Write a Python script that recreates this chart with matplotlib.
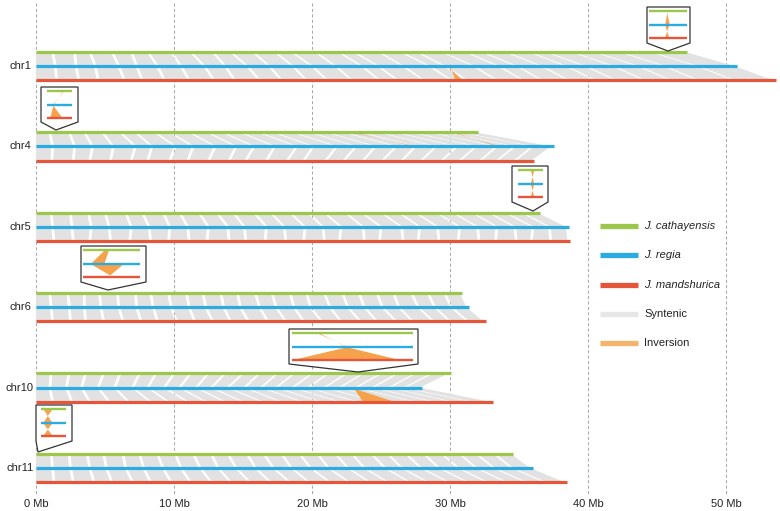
import matplotlib
matplotlib.use('Agg')
import matplotlib.pyplot as plt
from matplotlib.patches import Polygon

plt.rcParams['font.family'] = ['Liberation Sans', 'DejaVu Sans']

# ---------------- data ----------------
chroms = ['chr1', 'chr4', 'chr5', 'chr6', 'chr10', 'chr11']
len_cath = [47.2, 32.0, 36.5, 30.9, 30.1, 34.6]
len_regia = [50.8, 37.5, 38.6, 31.4, 28.0, 36.0]
len_mand = [53.6, 36.1, 38.7, 32.6, 33.1, 38.5]

# syntenic anchor positions (Mb) on each genome
anch_cath = {
    'chr1': [0, 1.3, 2.9, 4.0, 5.6, 7.0, 8.2, 9.9, 11.3, 12.9, 14.2, 15.8, 17.4, 18.6, 20.3, 22.0, 23.1, 24.9, 26.5, 27.7, 29.5, 31.2, 32.4, 34.1, 35.8, 37.0, 38.9, 40.5, 42.4, 44.6, 47.2],
    'chr4': [0, 1.1, 2.5, 3.6, 4.9, 6.2, 7.3, 8.7, 9.8, 11.2, 12.5, 13.6, 14.9, 16.2, 17.3, 18.7, 19.9, 21.1, 22.4, 23.6, 24.9, 26.1, 27.3, 28.6, 29.7, 30.8, 32.0],
    'chr5': [0, 1.2, 2.6, 3.9, 5.1, 6.6, 7.8, 9.3, 10.5, 11.9, 13.2, 14.4, 15.9, 17.1, 18.5, 19.8, 21.0, 22.5, 23.7, 25.1, 26.4, 27.6, 29.1, 30.3, 31.7, 32.9, 34.1, 35.3, 36.5],
    'chr6': [0, 1.1, 2.4, 3.6, 4.7, 6.0, 7.3, 8.4, 9.7, 11.0, 12.2, 13.5, 14.7, 16.0, 17.2, 18.5, 19.7, 21.0, 22.3, 23.5, 24.8, 26.0, 27.3, 28.5, 29.7, 30.9],
    'chr10': [0, 1.2, 2.5, 3.7, 5.0, 6.2, 7.6, 8.8, 10.1, 11.3, 12.6, 13.8, 15.1, 16.3, 17.6, 18.8, 20.1, 21.3, 22.6, 23.8, 25.1, 26.3, 27.6, 28.8, 30.1],
    'chr11': [0, 1.2, 2.5, 3.8, 5.0, 6.4, 7.6, 8.9, 10.2, 11.5, 12.8, 14.0, 15.4, 16.6, 17.9, 19.2, 20.5, 21.8, 23.0, 24.4, 25.6, 26.9, 28.2, 29.5, 30.8, 32.0, 33.3, 34.6],
}
anch_regia = {
    'chr1': [0, 1.5, 3.0, 4.4, 6.1, 7.4, 8.9, 10.6, 12.3, 13.8, 15.4, 17.0, 18.7, 20.1, 21.8, 23.7, 24.9, 26.7, 28.6, 29.7, 31.8, 33.6, 34.9, 36.7, 38.5, 39.9, 41.9, 43.7, 45.6, 48.0, 50.8],
    'chr4': [0, 1.3, 2.9, 4.2, 5.7, 7.3, 8.5, 10.2, 11.5, 13.1, 14.6, 15.9, 17.4, 19.0, 20.2, 21.9, 23.3, 24.7, 26.2, 27.6, 29.1, 30.6, 32.0, 33.5, 34.8, 36.1, 37.5],
    'chr5': [0, 1.3, 2.7, 4.1, 5.4, 7.0, 8.3, 9.8, 11.1, 12.6, 14.0, 15.2, 16.8, 18.1, 19.6, 20.9, 22.2, 23.8, 25.1, 26.6, 27.9, 29.2, 30.8, 32.1, 33.5, 34.8, 36.1, 37.3, 38.6],
    'chr6': [0, 1.2, 2.5, 3.6, 4.8, 6.1, 7.4, 8.6, 9.9, 11.2, 12.4, 13.7, 14.9, 16.3, 17.5, 18.8, 20.0, 21.4, 22.7, 23.9, 25.2, 26.4, 27.8, 29.0, 30.2, 31.4],
    'chr10': [0, 1.1, 2.3, 3.4, 4.6, 5.8, 7.1, 8.2, 9.4, 10.5, 11.7, 12.8, 14.0, 15.2, 16.4, 17.5, 18.7, 19.8, 21.0, 22.1, 23.3, 24.5, 25.7, 26.8, 28.0],
    'chr11': [0, 1.3, 2.6, 4.0, 5.2, 6.6, 7.9, 9.3, 10.6, 12.0, 13.3, 14.6, 16.0, 17.3, 18.6, 20.0, 21.3, 22.7, 23.9, 25.4, 26.6, 28.0, 29.3, 30.7, 32.0, 33.3, 34.6, 36.0],
}
anch_mand = {
    'chr1': [0, 1.6, 3.2, 4.6, 6.5, 7.8, 9.4, 11.2, 13.0, 14.5, 16.3, 17.9, 19.7, 21.2, 23.0, 25.0, 26.3, 28.2, 30.2, 31.3, 33.5, 35.4, 36.8, 38.7, 40.6, 42.1, 44.2, 46.1, 48.1, 50.7, 53.6],
    'chr4': [0, 1.25, 2.8, 4.0, 5.5, 7.0, 8.2, 9.8, 11.1, 12.6, 14.1, 15.3, 16.8, 18.3, 19.5, 21.1, 22.4, 23.8, 25.2, 26.6, 28.0, 29.5, 30.8, 32.3, 33.5, 34.8, 36.1],
    'chr5': [0, 1.4, 2.8, 4.0, 5.5, 6.9, 8.4, 9.7, 11.2, 12.5, 14.1, 15.3, 16.7, 18.2, 19.5, 21.0, 22.1, 23.9, 25.0, 26.7, 27.8, 29.3, 30.7, 32.2, 33.4, 34.9, 36.0, 37.4, 38.7],
    'chr6': [0, 1.3, 2.6, 3.7, 5.0, 6.4, 7.7, 8.9, 10.3, 11.6, 12.9, 14.2, 15.5, 16.9, 18.2, 19.5, 20.8, 22.2, 23.6, 24.8, 26.2, 27.4, 28.9, 30.1, 31.4, 32.6],
    'chr10': [0, 1.3, 2.7, 4.0, 5.4, 6.8, 8.4, 9.7, 11.1, 12.4, 13.8, 15.1, 16.5, 17.9, 19.4, 20.7, 22.1, 23.4, 24.8, 26.1, 27.5, 28.9, 30.3, 31.6, 33.1],
    'chr11': [0, 1.4, 2.8, 4.3, 5.6, 7.1, 8.4, 9.9, 11.3, 12.8, 14.2, 15.6, 17.1, 18.5, 19.9, 21.4, 22.8, 24.3, 25.6, 27.2, 28.5, 30.0, 31.4, 32.8, 34.2, 35.6, 37.0, 38.5],
}

# inversions in main panel: chromosome, pair, (start,end) on upper genome, (start,end) on lower genome
inv_chrom = ['chr1', 'chr4', 'chr4', 'chr10']
inv_pair = ['br', 'gb', 'gb', 'br']
inv_upper = [(29.8, 30.0), (22.7, 22.9), (30.0, 30.2), (22.8, 23.0)]
inv_lower = [(30.9, 30.4), (27.6, 27.4), (33.6, 33.4), (26.0, 23.7)]

# inset zooms (positions within inset window, fraction)
inset_chrom = ['chr1', 'chr4', 'chr5', 'chr6', 'chr10', 'chr11']
inset_gb_upper = [(0.465, 0.485), (0.60, 0.62), (0.52, 0.62), (0.37, 0.43), (0.215, 0.23), (0.20, 0.46)]
inset_gb_lower = [(0.53, 0.42), (0.34, 0.32), (0.62, 0.52), (0.15, 0.36), (0.455, 0.445), (0.46, 0.20)]
inset_br_upper = [(0.42, 0.52), (0.32, 0.34), (0.52, 0.62), (0.15, 0.66), (0.44, 0.46), (0.20, 0.46)]
inset_br_lower = [(0.52, 0.42), (0.58, 0.25), (0.62, 0.52), (0.49, 0.42), (0.86, 0.03), (0.46, 0.20)]

xticks = [0, 10, 20, 30, 40, 50]
legend_labels = ['J. cathayensis', 'J. regia', 'J. mandshurica', 'Syntenic', 'Inversion']

# ---------------- style ----------------
C_G = '#9BC74B'
C_B = '#2AACE2'
C_R = '#E5553A'
C_GRAY = '#E2E2E2'
C_OR = '#F6A24C'
C_OR_LEG = '#F6B36B'

W, H = 780, 511
X0PX, PXMB = 36.0, 13.8
fig = plt.figure(figsize=(7.8, 5.11), dpi=100)
ax = fig.add_axes([0, 0, 1, 1])
ax.set_xlim(-X0PX / PXMB, (W - X0PX) / PXMB)
ax.set_ylim(H, 0)
ax.axis('off')

row_y = [66 + 80.4 * i for i in range(len(chroms))]
DY = 14.2


def ribbon(a, b, ya, yb, **kw):
    # a=(start,end) on upper track, b=(start,end) on lower track
    return Polygon([(a[0], ya), (a[1], ya), (b[1], yb), (b[0], yb)], closed=True, **kw)


# grid
ax.vlines(xticks, 3, 494, colors='#aaaaaa', linestyles=(0, (3, 2.2)), lw=0.75, zorder=0)
for t in xticks:
    ax.text(t, 504, f'{t} Mb', ha='center', va='center', fontsize=8, color='#222222')

GAP = 0.2
for ci, ch in enumerate(chroms):
    yb = row_y[ci]
    yg, yr = yb - DY, yb + DY
    g, b, r = anch_cath[ch], anch_regia[ch], anch_mand[ch]
    for i in range(len(g) - 1):
        ax.add_patch(ribbon((g[i], g[i + 1] - GAP), (b[i], b[i + 1] - GAP), yg, yb,
                            fc=C_GRAY, ec='none', zorder=1))
        ax.add_patch(ribbon((b[i], b[i + 1] - GAP), (r[i], r[i + 1] - GAP), yb, yr,
                            fc=C_GRAY, ec='none', zorder=1))
    ax.plot([0, len_cath[ci]], [yg, yg], color=C_G, lw=2.3, solid_capstyle='butt', zorder=3)
    ax.plot([0, len_regia[ci]], [yb, yb], color=C_B, lw=2.3, solid_capstyle='butt', zorder=3)
    ax.plot([0, len_mand[ci]], [yr, yr], color=C_R, lw=2.3, solid_capstyle='butt', zorder=3)
    ax.text(-X0PX / PXMB + 20 / PXMB, yb, ch, ha='center', va='center', fontsize=8, color='#222222')

for ch, pr, up, lo in zip(inv_chrom, inv_pair, inv_upper, inv_lower):
    ci = chroms.index(ch)
    yb = row_y[ci]
    ya, yl = (yb - DY, yb) if pr == 'gb' else (yb, yb + DY)
    ax.add_patch(ribbon(up, lo, ya, yl, fc=C_OR, ec='none', zorder=2))

# overlay in pixel coords for legend and inset frames
ov = fig.add_axes([0, 0, 1, 1], facecolor='none')
ov.set_xlim(0, W)
ov.set_ylim(H, 0)
ov.axis('off')

leg_cols = [C_G, C_B, C_R, '#E6E6E6', C_OR_LEG]
leg_y = [226, 255.5, 285, 314, 343]
for lab, col, ly, k in zip(legend_labels, leg_cols, leg_y, range(5)):
    ov.plot([600, 638], [ly, ly], color=col, lw=3.8, solid_capstyle='butt')
    ov.text(644, ly, lab, va='center', ha='left', fontsize=8, color='#222222',
            style='italic' if k < 3 else 'normal')

# inset frames: box (x0, y0, x1, y1), tip (tx, ty), inner line span (lx0, lx1)
inset_box = [(647, 7, 690, 43), (41, 87, 78, 122), (512, 166, 548, 202),
             (81, 246, 146, 282), (289, 329, 418, 364), (36, 405, 72, 441)]
inset_tip = [(668, 51), (56, 130), (533, 211), (108, 290), (358, 372), (38, 452)]
inset_span = [(649, 687), (47, 72), (518, 543), (83, 140), (292, 413), (41, 66)]

for k in range(len(inset_chrom)):
    x0, y0, x1, y1 = inset_box[k]
    tx, ty = inset_tip[k]
    ov.add_patch(Polygon([(x0, y0), (x1, y0), (x1, y1), (tx, ty), (x0, y1)], closed=True,
                         fc='white', ec='#333333', lw=0.9, zorder=5))
    ia = fig.add_axes([x0 / W, 1 - y1 / H, (x1 - x0) / W, (y1 - y0) / H], facecolor='none')
    ia.set_xlim(0, 1)
    ia.set_ylim(1, 0)
    ia.axis('off')
    h = y1 - y0
    fy = [4.0 / h, 18.0 / h, 31.0 / h]
    lx0 = (inset_span[k][0] - x0) / (x1 - x0)
    lx1 = (inset_span[k][1] - x0) / (x1 - x0)
    ia.add_patch(ribbon(inset_gb_upper[k], inset_gb_lower[k], fy[0], fy[1],
                        fc=C_OR, ec='none', zorder=1))
    ia.add_patch(ribbon(inset_br_upper[k], inset_br_lower[k], fy[1], fy[2],
                        fc=C_OR, ec='none', zorder=1))
    for yy, col in zip(fy, [C_G, C_B, C_R]):
        ia.plot([lx0, lx1], [yy, yy], color=col, lw=1.7, solid_capstyle='butt', zorder=2)

fig.savefig('out.png', dpi=100)
